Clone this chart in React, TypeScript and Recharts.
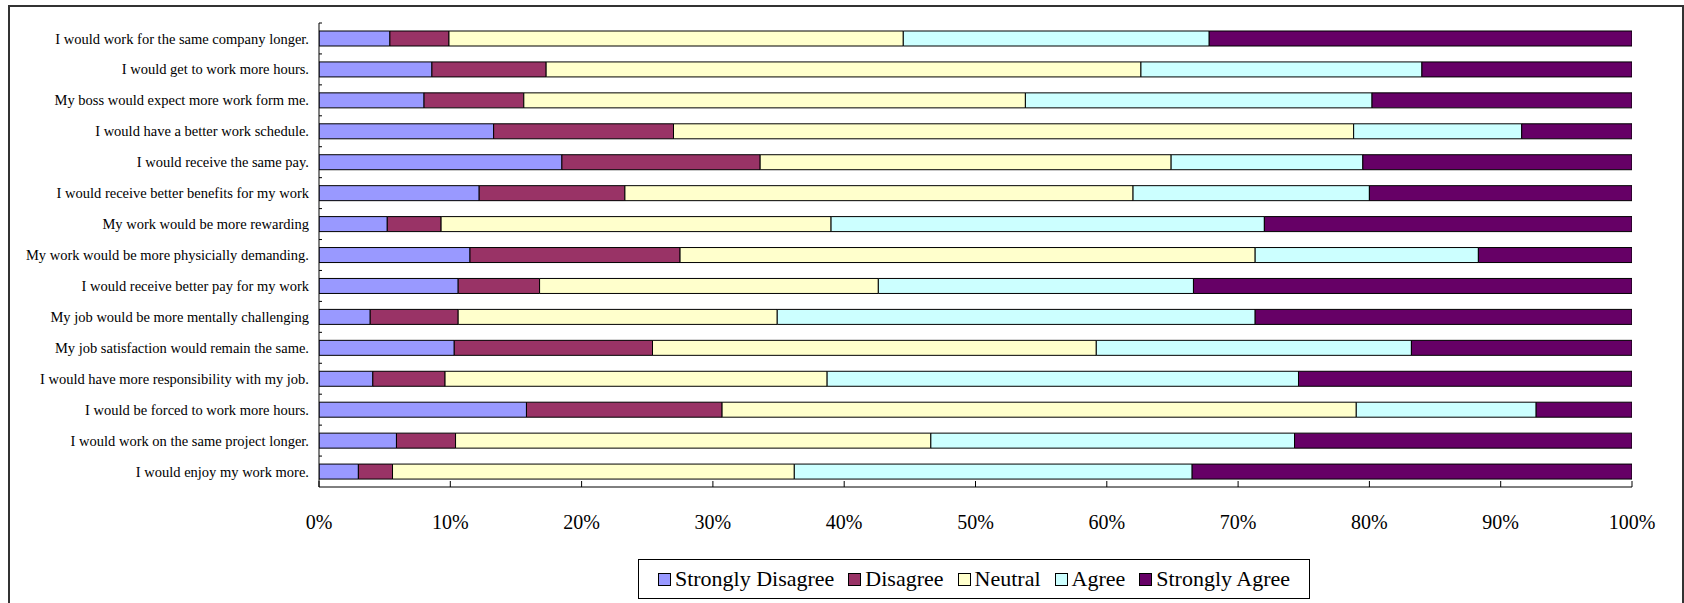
import React from "react";
import { BarChart, Bar, XAxis, YAxis, Legend } from "recharts";

const statements = [
  "I would work for the same company longer.",
  "I would get to work more hours.",
  "My boss would expect more work form me.",
  "I would have a better work schedule.",
  "I would receive the same pay.",
  "I would receive better benefits for my work",
  "My work would be more rewarding",
  "My work would be more physicially demanding.",
  "I would receive better pay for my work",
  "My job would be more mentally challenging",
  "My job satisfaction would remain the same.",
  "I would have more responsibility with my job.",
  "I would be forced to work more hours.",
  "I would work on the same project longer.",
  "I would enjoy my work more.",
];

const stronglyDisagree = [5.4, 8.6, 8.0, 13.3, 18.5, 12.2, 5.2, 11.5, 10.6, 3.9, 10.3, 4.1, 15.8, 5.9, 3.0];
const disagree = [4.5, 8.7, 7.6, 13.7, 15.1, 11.1, 4.1, 16.0, 6.2, 6.7, 15.1, 5.5, 14.9, 4.5, 2.6];
const neutral = [34.6, 45.3, 38.2, 51.8, 31.3, 38.7, 29.7, 43.8, 25.8, 24.3, 33.8, 29.1, 48.3, 36.2, 30.6];
const agree = [23.3, 21.4, 26.4, 12.8, 14.6, 18.0, 33.0, 17.0, 24.0, 36.4, 24.0, 35.9, 13.7, 27.7, 30.3];
const stronglyAgree = [32.2, 16.0, 19.8, 8.4, 20.5, 20.0, 28.0, 11.7, 33.4, 28.7, 16.8, 25.4, 7.3, 25.7, 33.5];

const xTicks = [0, 10, 20, 30, 40, 50, 60, 70, 80, 90, 100];

const SERIES = [
  { key: "sd", name: "Strongly Disagree", color: "#9999ff" },
  { key: "d", name: "Disagree", color: "#993366" },
  { key: "n", name: "Neutral", color: "#ffffcc" },
  { key: "a", name: "Agree", color: "#ccffff" },
  { key: "sa", name: "Strongly Agree", color: "#660066" },
];

const data = statements.map((label, i) => ({
  label,
  sd: stronglyDisagree[i],
  d: disagree[i],
  n: neutral[i],
  a: agree[i],
  sa: stronglyAgree[i],
}));

const FONT = "'Liberation Serif', 'Times New Roman', serif";
const W = 1684;
const H = 603;
const MARGIN = { top: 23, right: 52, left: 0, bottom: 56 };
const X_AXIS_H = 60;
const PLOT_H = H - MARGIN.top - MARGIN.bottom - X_AXIS_H;
const HALF_BAND = PLOT_H / statements.length / 2;

function YTick(props: any) {
  const { x, y, payload } = props;
  const axisX = x + 10;
  return (
    <g>
      <text
        x={x}
        y={y}
        dy="0.35em"
        textAnchor="end"
        fontSize={14.5}
        fontFamily={FONT}
        fill="#000"
      >
        {payload.value}
      </text>
      <line x1={axisX} x2={axisX + 3} y1={y - HALF_BAND} y2={y - HALF_BAND} stroke="#000" />
    </g>
  );
}

// legend keeps the series order (recharts sorts by name otherwise)
function LegendBox() {
  return (
    <div
      style={{
        boxSizing: "border-box",
        border: "1px solid #000",
        height: 40,
        display: "flex",
        alignItems: "center",
        justifyContent: "center",
        gap: 14,
        fontFamily: FONT,
        fontSize: 22,
        color: "#000",
        background: "#fff",
      }}
    >
      {SERIES.map((s) => (
        <span key={s.key} style={{ display: "flex", alignItems: "center" }}>
          <span
            style={{
              display: "inline-block",
              boxSizing: "border-box",
              width: 13,
              height: 13,
              background: s.color,
              border: "1px solid #000",
              marginRight: 4,
            }}
          />
          {s.name}
        </span>
      ))}
    </div>
  );
}

export default function App() {
  return (
    <div>
      <div
        style={{
          position: "absolute",
          left: 8,
          top: 5,
          width: W - 8,
          height: H - 5,
          boxSizing: "border-box",
          border: "2px solid #333",
          borderBottom: "none",
          background: "#fff",
        }}
      />
      <div style={{ position: "absolute", left: 0, top: 0, width: W, height: H }}>
        <BarChart
          width={W}
          height={H}
          data={data}
          layout="vertical"
          margin={MARGIN}
          barSize={15}
        >
          <XAxis
            type="number"
            domain={[0, 100]}
            ticks={xTicks}
            tickFormatter={(v) => `${v}%`}
            height={X_AXIS_H}
            tickSize={-6}
            tickMargin={34}
            tick={{ fontSize: 20, fontFamily: FONT, fill: "#000" }}
            tickLine={{ stroke: "#000" }}
            axisLine={{ stroke: "#000" }}
            allowDataOverflow
          />
          <YAxis
            type="category"
            dataKey="label"
            width={319}
            interval={0}
            tickSize={0}
            tickMargin={10}
            tickLine={false}
            axisLine={{ stroke: "#000" }}
            tick={<YTick />}
          />
          <Legend
            layout="horizontal"
            verticalAlign="middle"
            align="center"
            wrapperStyle={{ left: 638, top: 559, width: 672, height: 40 }}
            content={<LegendBox />}
          />
          {SERIES.map((s) => (
            <Bar
              key={s.key}
              dataKey={s.key}
              name={s.name}
              stackId="all"
              fill={s.color}
              stroke="#000"
              strokeWidth={1}
              isAnimationActive={false}
            />
          ))}
        </BarChart>
      </div>
    </div>
  );
}
